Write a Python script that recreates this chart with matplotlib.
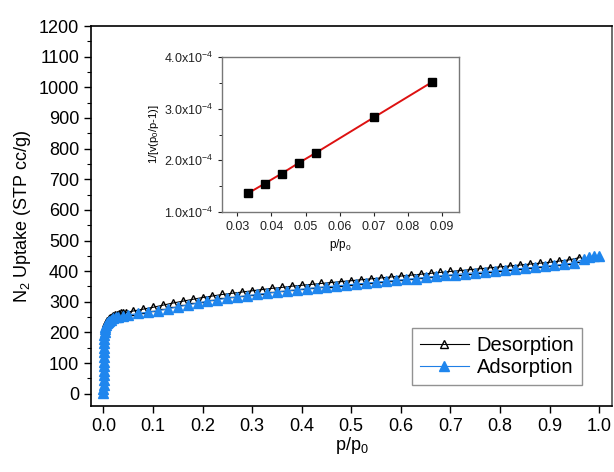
import numpy as np
import matplotlib
matplotlib.use("Agg")
import matplotlib.pyplot as plt
from matplotlib.ticker import MultipleLocator

plt.rcParams['font.family'] = ['Liberation Sans', 'DejaVu Sans']
plt.rcParams['mathtext.fontset'] = 'custom'
plt.rcParams['mathtext.rm'] = 'Liberation Sans'
plt.rcParams['mathtext.it'] = 'Liberation Sans:italic'

# Adsorption branch (p/p0, uptake cc/g)
ads_p = [0.0001, 0.0002, 0.0003, 0.0004, 0.0005, 0.0006, 0.0007, 0.0008, 0.0009, 0.001,
         0.0012, 0.0014, 0.0017, 0.002, 0.0025, 0.003, 0.004, 0.005, 0.007, 0.009,
         0.012, 0.015, 0.02, 0.025, 0.03, 0.04, 0.05, 0.07, 0.09, 0.11, 0.13, 0.15,
         0.17, 0.19, 0.21, 0.23, 0.25, 0.27, 0.29, 0.31, 0.33, 0.35, 0.37, 0.39,
         0.41, 0.43, 0.45, 0.47, 0.49, 0.51, 0.53, 0.55, 0.57, 0.59, 0.61, 0.63,
         0.65, 0.67, 0.69, 0.71, 0.73, 0.75, 0.77, 0.79, 0.81, 0.83, 0.85, 0.87,
         0.89, 0.91, 0.93, 0.95, 0.97, 0.98, 0.99, 1.0]
ads_v = [2, 15, 30, 45, 60, 75, 90, 105, 120, 135,
         150, 165, 180, 192, 202, 210, 218, 224, 230, 234,
         238, 242, 246, 249, 252, 255, 257, 262, 266, 271, 277, 284,
         290, 296, 302, 307, 312, 316, 320, 324, 328, 332, 336, 339,
         343, 346, 349, 352, 355, 358, 361, 364, 367, 370, 373, 376,
         380, 383, 386, 389, 392, 395, 398, 401, 404, 407, 410, 413,
         416, 419, 423, 427, 440, 445, 448, 450]

# Desorption branch
des_p = [0.005, 0.008, 0.011, 0.014, 0.017, 0.02, 0.024, 0.028, 0.032, 0.036, 0.04,
         0.045, 0.06, 0.08, 0.10, 0.12, 0.14, 0.16, 0.18, 0.20, 0.22, 0.24, 0.26,
         0.28, 0.30, 0.32, 0.34, 0.36, 0.38, 0.40, 0.42, 0.44, 0.46, 0.48, 0.50,
         0.52, 0.54, 0.56, 0.58, 0.60, 0.62, 0.64, 0.66, 0.68, 0.70, 0.72, 0.74,
         0.76, 0.78, 0.80, 0.82, 0.84, 0.86, 0.88, 0.90, 0.92, 0.94, 0.96]
des_v = [232, 238, 243, 247, 250, 253, 256, 258, 260, 262, 263,
         265, 270, 276, 282, 289, 296, 302, 308, 314, 319, 324, 328,
         332, 336, 340, 344, 347, 351, 354, 357, 360, 363, 366, 369,
         372, 375, 378, 381, 384, 387, 390, 393, 396, 399, 402, 405,
         408, 411, 414, 417, 420, 423, 426, 429, 433, 437, 444]

# BET inset
bet_p = [0.0332, 0.038, 0.043, 0.048, 0.053, 0.070, 0.0872]
bet_y = [1.365e-4, 1.55e-4, 1.745e-4, 1.95e-4, 2.145e-4, 2.83e-4, 3.52e-4]
bet_ticks = [1e-4, 2e-4, 3e-4, 4e-4]
bet_tick_labels = ['1.0x10$^{-4}$', '2.0x10$^{-4}$', '3.0x10$^{-4}$', '4.0x10$^{-4}$']

fig = plt.figure(figsize=(6.14, 4.72), dpi=100)
ax = fig.add_axes([0.1482, 0.1398, 0.8485, 0.8051])

ax.plot(des_p, des_v, color='black', lw=0.8, marker='^', ms=6,
        mfc='none', mec='black', mew=1.0, label='Desorption', zorder=2)
ax.plot(ads_p, ads_v, color='#1f7fe6', lw=0.8, marker='^', ms=6.5,
        mfc='#1f86ee', mec='#1f86ee', label='Adsorption', zorder=3)

ax.set_xlim(-0.025, 1.026)
ax.set_ylim(-40, 1200)
ax.xaxis.set_major_locator(MultipleLocator(0.1))
ax.yaxis.set_major_locator(MultipleLocator(100))
ax.yaxis.set_minor_locator(MultipleLocator(50))
ax.xaxis.set_major_formatter(plt.FormatStrFormatter('%.1f'))
ax.tick_params(axis='both', which='major', direction='out', length=5, width=1,
               labelsize=13, top=False, right=False)
ax.tick_params(axis='y', which='minor', direction='out', length=3, width=0.8)
for s in ax.spines.values():
    s.set_linewidth(1.2)
ax.spines['right'].set_color('#555555')

ax.set_xlabel('p/p$_0$', fontsize=13, labelpad=0)
ax.set_ylabel('N$_2$ Uptake (STP cc/g)', fontsize=13, labelpad=4)

leg = ax.legend(loc='lower right', bbox_to_anchor=(0.943, 0.055), fontsize=14.5,
                frameon=True, fancybox=False, edgecolor='#777777',
                handlelength=2.4, handletextpad=0.4, borderpad=0.4,
                borderaxespad=0.0, labelspacing=0.15)
leg.get_frame().set_linewidth(1.0)

# inset
ins = fig.add_axes([0.3616, 0.5508, 0.3860, 0.3284])
ins.plot(bet_p, bet_y, color='#dd1111', lw=1.4, zorder=2)
ins.plot(bet_p, bet_y, ls='none', marker='s', ms=6, mfc='black', mec='black', zorder=3)
ins.set_xlim(0.0255, 0.095)
ins.set_ylim(1e-4, 4e-4)
ins.xaxis.set_major_locator(MultipleLocator(0.01))
ins.xaxis.set_major_formatter(plt.FormatStrFormatter('%.2f'))
ins.set_yticks(bet_ticks)
ins.set_yticklabels(bet_tick_labels)
ins.yaxis.set_minor_locator(MultipleLocator(0.5e-4))
ins.tick_params(axis='both', which='major', direction='out', length=3, width=0.8,
                labelsize=9, colors='#222222')
ins.tick_params(axis='y', which='minor', direction='out', length=2, width=0.6)
for s in ins.spines.values():
    s.set_linewidth(1.0)
    s.set_color('#777777')
ins.set_xlabel('p/p$_0$', fontsize=8.5, labelpad=3)
ins.set_ylabel('1/[v(p$_0$/p-1)]', fontsize=8, labelpad=2)

fig.savefig('out.png', dpi=100)
